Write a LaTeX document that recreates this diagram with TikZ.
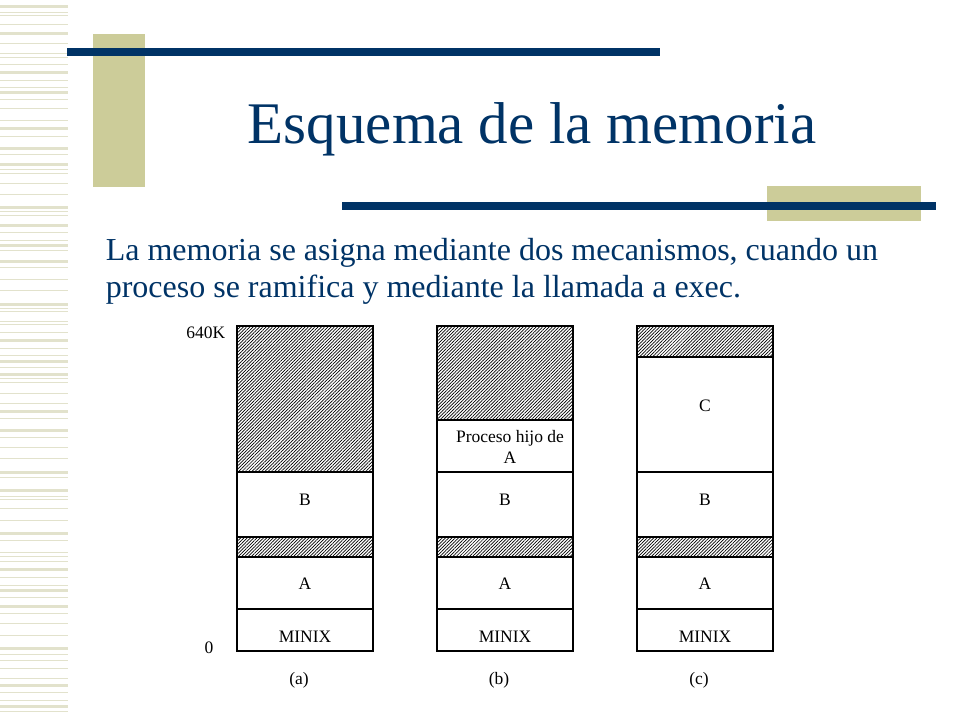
\documentclass[tikz,border=0pt]{standalone}
\usepackage{fontspec}
\setmainfont{Liberation Serif}
\usetikzlibrary{patterns.meta}
\definecolor{navy1}{RGB}{0, 51, 102}
\definecolor{khaki1}{RGB}{204, 204, 153}
\definecolor{stripe1}{RGB}{226, 226, 204}

\begin{document}
\begin{tikzpicture}[x=1pt, y=-1pt, line width=1.6pt,
  hatch/.style={draw=black, pattern={Lines[angle=45, distance=2.3pt, line width=0.7pt]}},
  lbl/.style={inner sep=0pt, font=\fontsize{17.5}{21.5}\selectfont}]
 \useasboundingbox (0,0) rectangle (960,720);
  % left stripes
  \foreach \y in {5,32,71,91,127,147,163,206,224,244,260,303,339,360,373,410,429,471,489,532,568,589,605,647,684,705}
   \fill[stripe1] (0,\y) rectangle (68,\y+3);
  \foreach \y in {12,15,24,43,53,57,64,80,87,99,108,120,136,154,169,173,183,194,211,215,232,240,250,267,279,290,308,311,321,324,332,348,355,367,378,382,393,403,418,437,447,458,477,496,499,508,520,540,552,556,561,577,585,597,613,623,635,654,660,668,678,692,700,711}
   \fill[stripe1] (0,\y) rectangle (68,\y+1.2);
  % title bars
  \fill[khaki1] (93,34) rectangle (145,187);
  \fill[navy1] (67,48) rectangle (660,56);
  \fill[khaki1] (767,186) rectangle (921,221);
  \fill[navy1] (342,202) rectangle (936,210);

  \node[anchor=base west, inner sep=0pt, text=navy1, font=\fontsize{59}{60}\selectfont] (title) at (247,143) {Esquema de la memoria};
  \node[anchor=base west, inner sep=0pt, text=navy1, font=\fontsize{32}{37}\selectfont] (t1) at (105,260) {La memoria se asigna mediante dos mecanismos, cuando un};
  \node[anchor=base west, inner sep=0pt, text=navy1, font=\fontsize{32}{37}\selectfont] (t2) at (105,297) {proceso se ramifica y mediante la llamada a exec.};

  % tops of the three maps
  \draw[hatch] (237,326) rectangle (373,472);
  \draw[hatch] (437,326) rectangle (573,420);
  \draw (437,420) rectangle (573,472);
  \draw[hatch] (637,326) rectangle (773,357);
  \draw (637,357) rectangle (773,472);
  \foreach \x in {237,437,637} {
   \draw (\x,472) rectangle ++(136,65);
   \draw[hatch] (\x,537) rectangle ++(136,20);
   \draw (\x,557) rectangle ++(136,52);
   \draw (\x,609) rectangle ++(136,42);
  }
  \foreach \x/\l in {305/a,505/b,705/c} {
   \node[lbl] (B\l) at (\x,500) {B};
   \node[lbl] (A\l) at (\x,584) {A};
   \node[lbl] (M\l) at (\x,637) {MINIX};
   \node[lbl] (cap\l) at (\x-6,680) {(\l)};
  }
  \node[lbl] (Cc) at (705,406) {C};
  \node[lbl, align=center] (hijo) at (510,447) {Proceso hijo de\\A};
  \node[lbl, anchor=east] (top) at (226,333) {640K};
  \node[lbl] (zero) at (209,648) {0};
    \end{tikzpicture}
\end{document}
